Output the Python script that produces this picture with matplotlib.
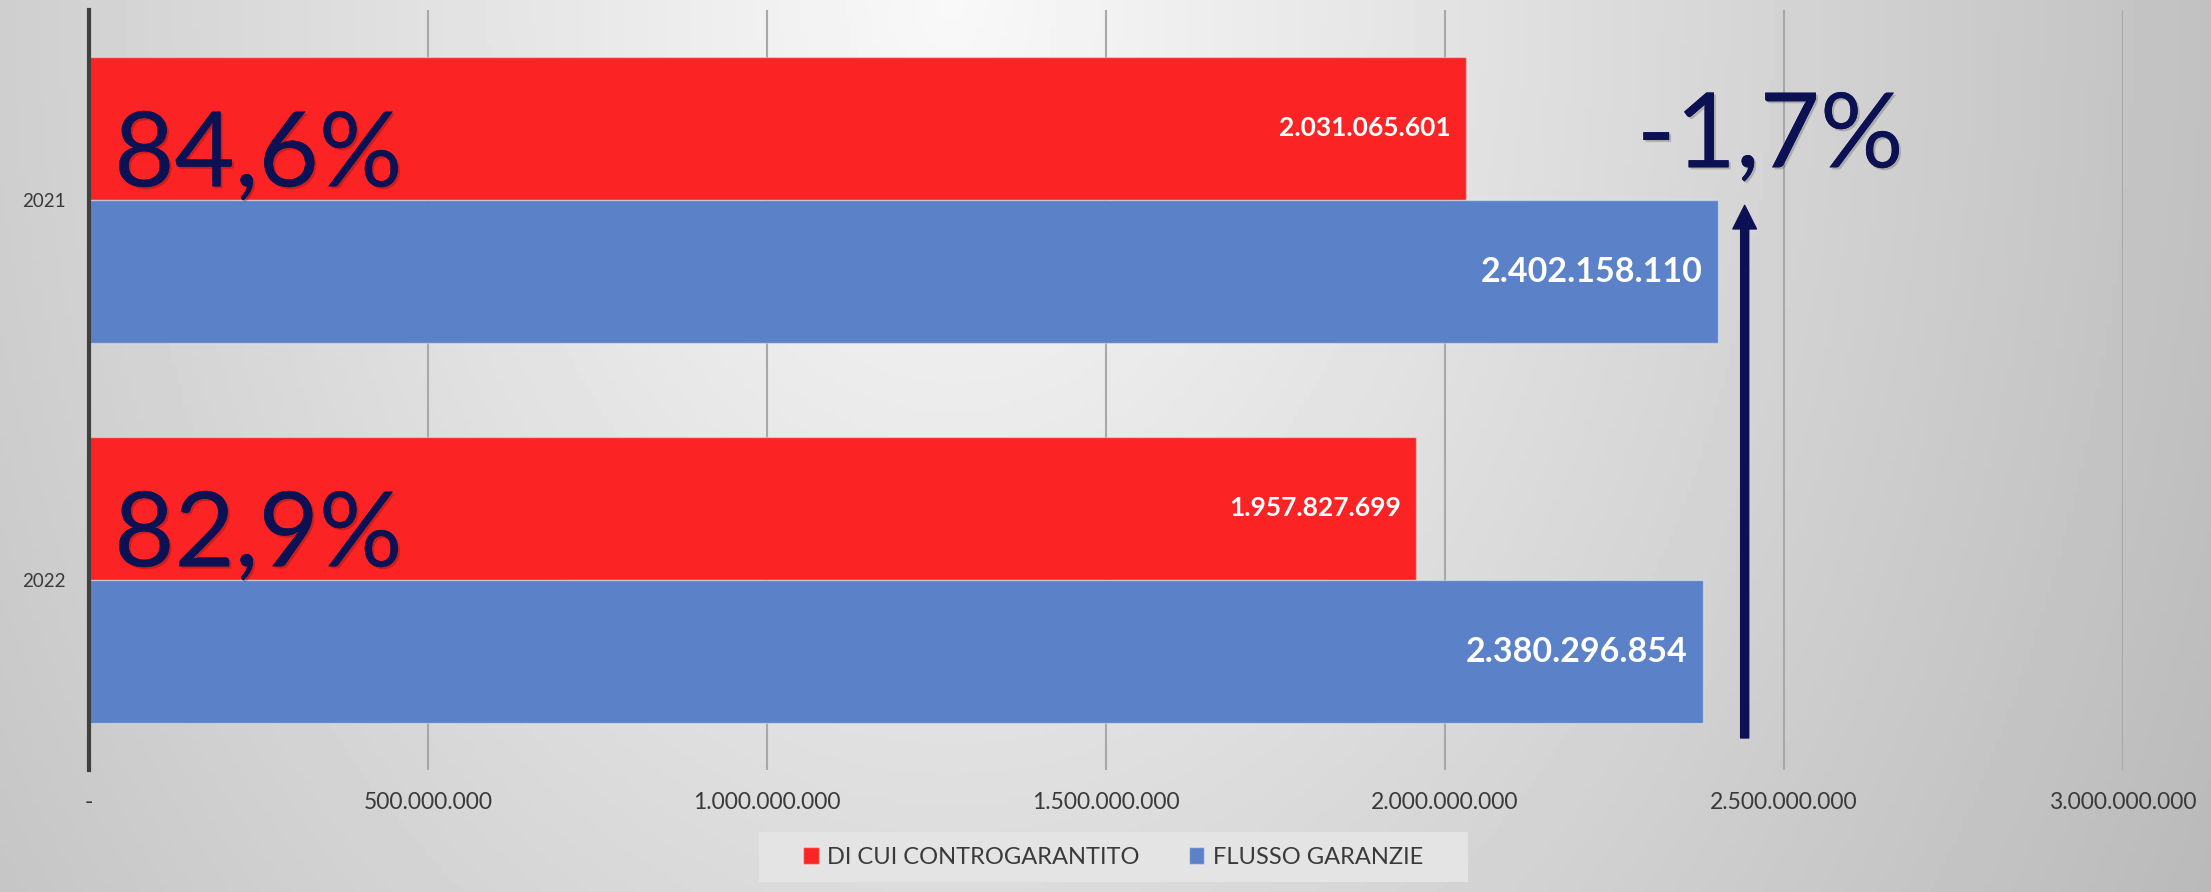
import numpy as np
import matplotlib
matplotlib.use("Agg")
import matplotlib.pyplot as plt
import matplotlib.patheffects as pe
from matplotlib.patches import Rectangle

plt.rcParams['font.family'] = ['Lato', 'DejaVu Sans']

years = ['2021', '2022']
contro = [2031065601, 1957827699]      # DI CUI CONTROGARANTITO
flusso = [2402158110, 2380296854]      # FLUSSO GARANZIE
quota_labels = ['84,6%', '82,9%']
delta_label = '-1,7%'
xticks = [0, 500000000, 1000000000, 1500000000, 2000000000, 2500000000, 3000000000]

RED = '#FB2323'
BLUE = '#5B82C8'
NAVY = '#0B1152'
GREY_TXT = '#3a3a3a'


def fmt_it(v):
    if v == 0:
        return '-'
    return f'{v:,.0f}'.replace(',', '.')


W, H = 2211, 892
fig = plt.figure(figsize=(W / 100, H / 100), dpi=100)

# background gradient
bg = fig.add_axes([0, 0, 1, 1], zorder=-10)
gx, gy = np.meshgrid(np.linspace(0, 1, 400), np.linspace(0, 1, 200))
d = np.sqrt(((gx - 0.43) / 0.6) ** 2 + (gy / 2.0) ** 2)
v = np.clip(0.975 - 0.23 * d, 0, 1)
bg.imshow(v, cmap='gray', vmin=0, vmax=1, aspect='auto', extent=[0, 1, 1, 0])
bg.set_xlim(0, 1)
bg.set_ylim(1, 0)
bg.axis('off')

ax = fig.add_axes([89 / W, 1 - 770 / H, (2123 - 89) / W, 760 / H])
ax.set_facecolor('none')

pos = np.array([1, 0])
h = 0.377
ax.barh(pos + h / 2, contro, height=h, color=RED, edgecolor=(1, 1, 1, 0.4),
        linewidth=1, zorder=3, label='DI CUI CONTROGARANTITO')
ax.barh(pos - h / 2, flusso, height=h, color=BLUE, edgecolor=(1, 1, 1, 0.4),
        linewidth=1, zorder=3, label='FLUSSO GARANZIE')

for p, c, f in zip(pos, contro, flusso):
    ax.annotate(fmt_it(c), xy=(c, p + h / 2), xytext=(-11, 0), textcoords='offset points',
                ha='right', va='center', color='white', fontsize=19, fontweight='bold', zorder=5)
    ax.annotate(fmt_it(f), xy=(f, p - h / 2), xytext=(-11, 0), textcoords='offset points',
                ha='right', va='center', color='white', fontsize=24.5, fontweight='bold', zorder=5)

shadow = [pe.withSimplePatchShadow(offset=(1.5, -1.5), shadow_rgbFace='black', alpha=0.18), pe.Normal()]
for p, lab in zip(pos, quota_labels):
    ax.annotate(lab, xy=(0, p + 0.036), xytext=(18, 0), textcoords='offset points',
                ha='left', va='baseline', color=NAVY, fontsize=75, zorder=6,
                path_effects=shadow)

ax.text(2.283e9, 1.086, delta_label, ha='left', va='baseline', color=NAVY,
        fontsize=75, zorder=6, path_effects=shadow)
ax.annotate('', xy=(2.442e9, 0.986), xytext=(2.442e9, -0.4157),
            arrowprops=dict(width=5.8, headwidth=17, headlength=17, shrink=0,
                            color=NAVY), zorder=6)

ax.set_xlim(0, 3e9)
ax.set_ylim(-0.5, 1.5)
ax.set_xticks(xticks)
ax.set_xticklabels([fmt_it(t) for t in xticks])
ax.set_yticks(pos)
ax.set_yticklabels(years)
ax.tick_params(axis='x', length=0, pad=16, labelsize=16.5, labelcolor=GREY_TXT)
ax.tick_params(axis='y', length=0, pad=17, labelsize=13.5, labelcolor=GREY_TXT)
ax.grid(axis='x', color='#a8a8a8', linewidth=1.5, zorder=0)
ax.set_axisbelow(True)
for s in ['top', 'right', 'bottom']:
    ax.spines[s].set_visible(False)
ax.spines['left'].set_color('#404040')
ax.spines['left'].set_linewidth(3)
ax.spines['left'].set_zorder(4)

# legend box
fig.patches.append(Rectangle((759 / W, 1 - 882 / H), (1468 - 759) / W, 50 / H,
                             transform=fig.transFigure, facecolor='#e4e4e4',
                             edgecolor='none', zorder=1))
leg = fig.legend(loc='center', bbox_to_anchor=(1113 / W, 1 - 857 / H), ncol=2,
                 frameon=False, fontsize=17, handlelength=0.65, handleheight=0.7,
                 handletextpad=0.35, columnspacing=2.1)
for t in leg.get_texts():
    t.set_color(GREY_TXT)

fig.savefig('out.png', dpi=100)
